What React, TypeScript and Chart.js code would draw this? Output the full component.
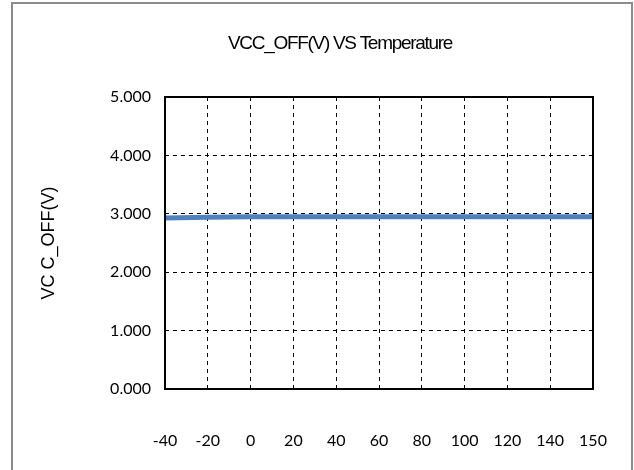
import React, { useEffect, useRef } from "react";
import { Chart, registerables } from "chart.js";

Chart.register(...registerables);

const temperatures: string[] = ["-40", "-20", "0", "20", "40", "60", "80", "100", "120", "140", "150"];
const vccOff: number[] = [2.93, 2.94, 2.95, 2.95, 2.95, 2.95, 2.95, 2.95, 2.95, 2.95, 2.95];
const titleText = "VCC_OFF(V) VS Temperature";
const yTitle = "VC C_OFF(V)";

const titlePlugin = {
  id: "customTitle",
  afterDraw(chart: any) {
    const ctx = chart.ctx;
    ctx.save();
    ctx.font = "19px 'Liberation Sans', Arial, sans-serif";
    (ctx as any).letterSpacing = "-1.3px";
    ctx.fillStyle = "#000";
    ctx.textAlign = "center";
    ctx.textBaseline = "middle";
    ctx.fillText(titleText, 340, 44);
    ctx.restore();
  },
};

const borderPlugin = {
  id: "plotBorder",
  afterDatasetsDraw(chart: any) {
    const { ctx, chartArea } = chart;
    ctx.save();
    ctx.strokeStyle = "#000";
    ctx.lineWidth = 2;
    ctx.strokeRect(chartArea.left, chartArea.top, chartArea.right - chartArea.left, chartArea.bottom - chartArea.top);
    ctx.restore();
  },
};

export default function App() {
  const ref = useRef<HTMLCanvasElement>(null);
  useEffect(() => {
    if (!ref.current) return;
    const chart = new Chart(ref.current, {
      type: "line",
      data: {
        labels: temperatures,
        datasets: [
          {
            data: vccOff,
            borderColor: "#4f81bd",
            borderWidth: 5,
            pointRadius: 0,
            tension: 0,
          },
        ],
      },
      options: {
        animation: false,
        responsive: false,
        maintainAspectRatio: false,
        layout: { padding: { top: 97, right: 41, left: 38 } },
        plugins: { legend: { display: false }, title: { display: false }, tooltip: { enabled: false } },
        scales: {
          x: {
            type: "category",
            offset: false,
            border: { display: false, dash: [4, 4] },
            grid: { color: "#000", lineWidth: 1, drawTicks: false },
            ticks: {
              padding: 42,
              color: "#000",
              font: { family: "Lato, 'Open Sans', sans-serif", size: 16 },
              maxRotation: 0,
              autoSkip: false,
            },
            afterFit: (s: any) => {
              s.height = 81;
              s.paddingLeft = 0;
              s.paddingRight = 0;
            },
          },
          y: {
            min: 0,
            max: 5,
            border: { display: false, dash: [4, 4] },
            grid: { color: "#000", lineWidth: 1, drawTicks: false },
            ticks: {
              stepSize: 1,
              padding: 14,
              color: "#000",
              font: { family: "Lato, 'Open Sans', sans-serif", size: 16 },
              callback: (v: any) => Number(v).toFixed(3),
            },
            title: {
              display: true,
              text: yTitle,
              color: "#000",
              font: { family: "'Liberation Sans', Arial, sans-serif", size: 18 },
              padding: { top: 0, bottom: 0 },
            },
            afterFit: (s: any) => {
              s.width = 127;
              s.paddingTop = 0;
              s.paddingBottom = 0;
            },
          },
        },
      },
      plugins: [titlePlugin, borderPlugin],
    });
    return () => chart.destroy();
  }, []);
  return (
    <div style={{ position: "fixed", left: 0, top: 0, width: 634, height: 470, background: "#fff" }}>
      <canvas ref={ref} width={634} height={470} style={{ position: "absolute", left: 0, top: 0 }} />
      <div
        style={{
          position: "absolute",
          left: 11,
          top: 2,
          width: 618,
          height: 480,
          borderLeft: "2px solid #8c8c8c",
          borderTop: "2px solid #8c8c8c",
          borderRight: "2px solid #8c8c8c",
          pointerEvents: "none",
        }}
      />
    </div>
  );
}
